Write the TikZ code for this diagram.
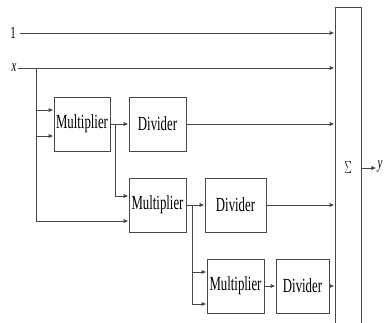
\documentclass[tikz,border=0pt]{standalone}
\usepackage{fontspec}
\setmainfont{Liberation Serif}
\usepackage{tikz}
\usetikzlibrary{arrows.meta, positioning, calc}

\newcommand{\narrow}[1]{\scalebox{0.64}[1]{#1}}

\begin{document}
\begin{tikzpicture}[
  x=1pt, y=-1pt,
  line/.style={draw=black!72, line width=1pt},
  box/.style={rectangle, line, minimum height=54pt, inner sep=0pt, align=center, font=\fontsize{20}{22}\selectfont},
  lbl/.style={inner sep=1pt, font=\fontsize{17}{19}\selectfont},
  arrow/.style={line, -{Latex[length=5pt, width=4.5pt]}}
]
\useasboundingbox (0,0) rectangle (387,322);

\node (in1) [lbl] at (13,33) {\narrow{1}};
\node (inx) [lbl] at (14,68) {\narrow{\textit{x}}};

\node (mult1) [box, minimum width=56pt] at (82,124) {\narrow{Multiplier}};
\node (div1) [box, minimum width=57pt] at (157.5,124) {\narrow{Divider}};
\node (mult2) [box, minimum width=57pt] at (157.5,205) {\narrow{Multiplier}};
\node (div2) [box, minimum width=61pt] at (235.5,205) {\narrow{Divider}};
\node (mult3) [box, minimum width=57pt] at (235.5,286) {\narrow{Multiplier}};
\node (div3) [box, minimum width=53pt] at (302.5,286) {\narrow{Divider}};

\node (sum) [rectangle, line, minimum width=26pt, minimum height=322pt, inner sep=0pt, lbl] at (348,168) {\narrow{$\Sigma$}};
\node (out) [lbl] at (380,166) {\narrow{\textit{y}}};

\coordinate (xsplit) at (36,69);
\coordinate (msplit1) at (115,124);
\coordinate (msplit2) at (192,205);

% direct inputs
\draw [arrow] (in1.east) ++(3pt,0) -- (in1.east -| sum.west);
\draw [arrow] (inx.east) -- (inx.east -| sum.west);

% x feeds
\draw [line] (xsplit) -- (xsplit |- 0,221);
\draw [arrow] (xsplit |- 0,110) -- (mult1.west |- 0,110);
\draw [arrow] (xsplit |- 0,136) -- (mult1.west |- 0,136);
\draw [arrow] (xsplit |- 0,221) -- (mult2.west |- 0,221);

% first stage
\draw [arrow] (mult1) -- (div1);
\draw [line] (msplit1) -- (msplit1 |- 0,196);
\draw [arrow] (msplit1 |- 0,196) -- (mult2.west |- 0,196);
\draw [arrow] (div1) -- (div1 -| sum.west);

% second stage
\draw [arrow] (mult2) -- (div2);
\draw [line] (msplit2) -- (msplit2 |- 0,304);
\draw [arrow] (msplit2 |- 0,272) -- (mult3.west |- 0,272);
\draw [arrow] (msplit2 |- 0,304) -- (mult3.west |- 0,304);
\draw [arrow] (div2) -- (div2 -| sum.west);

% third stage
\draw [arrow] (mult3) -- (div3);
\draw [arrow] (div3) -- (div3 -| sum.west);

\draw [arrow] (sum.east |- 0,168) -- (out.west |- 0,168);

\end{tikzpicture}
\end{document}
